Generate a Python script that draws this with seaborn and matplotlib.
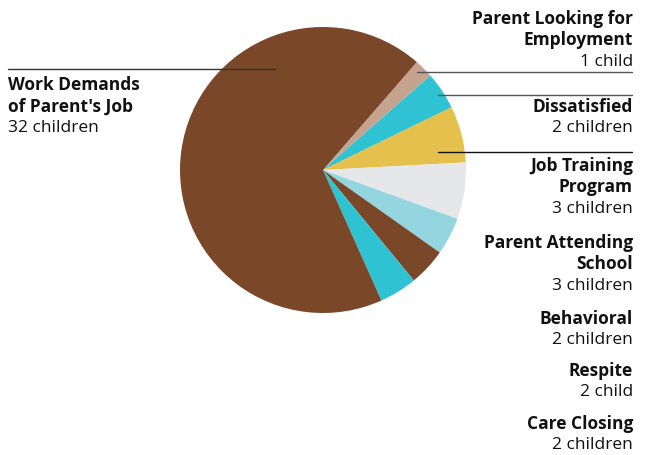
import seaborn as sns
import matplotlib.pyplot as plt
from matplotlib.lines import Line2D

sns.set_theme(style="white")
plt.rcParams['font.family'] = ['Open Sans', 'DejaVu Sans']

# slices, clockwise from the upper right
reasons = ['Parent Looking for\nEmployment', 'Dissatisfied', 'Job Training\nProgram',
           'Parent Attending\nSchool', 'Behavioral', 'Respite', 'Care Closing',
           "Work Demands\nof Parent's Job"]
counts = [1, 2, 3, 3, 2, 2, 2, 32]
count_text = ['1 child', '2 children', '3 children', '3 children', '2 children',
              '2 child', '2 children', '32 children']
colors = ['#c4a38f', '#2ec2d2', '#e6c04c', '#e6e7e8', '#93d6e0', '#7a4729',
          '#2ec2d2', '#7a4729']

W, H = 649, 456
fig = plt.figure(figsize=(W / 100, H / 100), dpi=100)
fig.patch.set_facecolor('white')


def px(x, y):
    return x / W, 1 - y / H


# pie centre (323,171), radius 143 px
ax = fig.add_axes([180 / W, (H - 314) / H, 286 / W, 286 / H])
ax.pie(counts, colors=colors, startangle=49, counterclock=False,
       wedgeprops=dict(linewidth=0))
ax.set_xlim(-1, 1)
ax.set_ylim(-1, 1)
ax.set_aspect('equal')
ax.axis('off')

fs = 12.5
# (x anchor, y of first line centre, align)
label_pos = [(633, 19, 'right'), (633, 107, 'right'), (633, 166, 'right'),
             (633, 243, 'right'), (633, 319, 'right'), (633, 371, 'right'),
             (633, 424, 'right'), (8, 85, 'left')]
step = 21.3
for name, ct, (x, y, ha) in zip(reasons, count_text, label_pos):
    lines = name.split('\n')
    for i, ln in enumerate(lines):
        fig.text(*px(x, y + i * step), ln, ha=ha, va='center', fontsize=fs,
                 fontweight='bold', color='#111111')
    fig.text(*px(x, y + len(lines) * step), ct, ha=ha, va='center', fontsize=fs,
             color='#111111')

# leader lines
for x0, x1, y, c in [(8, 275, 70, '#333333'), (417, 632, 73, '#555555'),
                     (438, 632, 96, '#555555'), (438, 632, 153, '#111111')]:
    (a, b), (c2, d) = px(x0, y), px(x1, y)
    fig.add_artist(Line2D([a, c2], [b, d], color=c, linewidth=1.0))

fig.savefig('out.png', dpi=100)
